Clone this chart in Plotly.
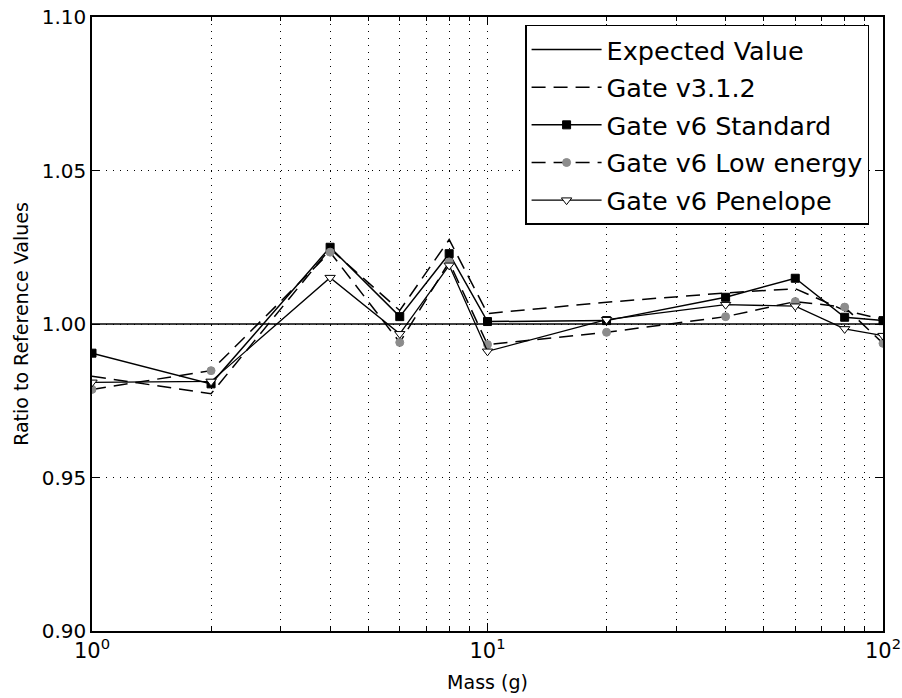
import plotly.graph_objects as go

masses = [1, 2, 4, 6, 8, 10, 20, 40, 60, 80, 100]
expected = [1.0] * len(masses)
gate_v312 = [0.9830, 0.9773, 1.0245, 1.0044, 1.0275, 1.0034, 1.0071, 1.0101, 1.0115, 1.0044, 1.0015]
v6_standard = [0.9905, 0.9805, 1.0250, 1.0024, 1.0229, 1.0008, 1.0011, 1.0087, 1.0149, 1.0022, 1.0011]
v6_lowenergy = [0.9787, 0.9848, 1.0234, 0.9940, 1.0202, 0.9933, 0.9973, 1.0024, 1.0073, 1.0055, 0.9937]
v6_penelope = [0.9810, 0.9813, 1.0151, 0.9968, 1.0191, 0.9911, 1.0014, 1.0063, 1.0058, 0.9984, 0.9962]

x_major = [1, 10, 100]
x_major_text = ["10<sup>0</sup>", "10<sup>1</sup>", "10<sup>2</sup>"]
x_minor = [2, 3, 4, 5, 6, 7, 8, 9, 20, 30, 40, 50, 60, 70, 80, 90]
y_ticks = [0.90, 0.95, 1.00, 1.05, 1.10]
y_ticktext = ["0.90", "0.95", "1.00", "1.05", "1.10"]

DASH = "14px,8px"

fig = go.Figure()
fig.add_trace(go.Scatter(x=masses, y=expected, mode="lines", name="Expected Value",
                         legendgroup="a",
                         line=dict(color="black", width=1.5)))
fig.add_trace(go.Scatter(x=masses, y=gate_v312, mode="lines", name="Gate v3.1.2",
                         legendgroup="b",
                         line=dict(color="black", width=1.5, dash=DASH)))
fig.add_trace(go.Scatter(x=masses, y=v6_standard, mode="lines+markers", name="Gate v6 Standard",
                         legendgroup="c",
                         line=dict(color="black", width=1.5),
                         marker=dict(symbol="square", size=8, color="black",
                                     line=dict(color="black", width=1))))
fig.add_trace(go.Scatter(x=masses, y=v6_lowenergy, mode="lines+markers", name="Gate v6 Low energy",
                         legendgroup="d",
                         line=dict(color="black", width=1.5, dash=DASH),
                         marker=dict(symbol="circle", size=8, color="#8c8c8c",
                                     line=dict(color="#8c8c8c", width=1))))
fig.add_trace(go.Scatter(x=masses, y=v6_penelope, mode="lines+markers", name="Gate v6 Penelope",
                         legendgroup="e",
                         line=dict(color="black", width=1.3),
                         marker=dict(symbol="triangle-down", size=9, color="white",
                                     line=dict(color="black", width=1))))

fig.update_layout(
    width=902, height=698,
    margin=dict(l=92, r=19, t=17, b=67),
    paper_bgcolor="white", plot_bgcolor="white",
    font=dict(family="DejaVu Sans", color="black", size=20),
    showlegend=True,
    legend=dict(x=0.9824, y=0.9870, xanchor="right", yanchor="top",
                bordercolor="black", borderwidth=1.5, bgcolor="white",
                font=dict(size=25.5, family="DejaVu Sans"),
                tracegroupgap=1.5, itemwidth=70),
)
fig.update_xaxes(
    type="log", range=[0, 2], automargin=False,
    tickmode="array", tickvals=x_major, ticktext=x_major_text,
    ticks="inside", ticklen=8, tickcolor="black", tickwidth=1,
    showline=True, linecolor="black", linewidth=1.5, mirror="allticks",
    showgrid=True, gridcolor="black", gridwidth=1, griddash="1px,6px",
    zeroline=False,
    tickfont=dict(size=21),
    title=dict(text="Mass (g)", font=dict(size=19), standoff=14),
    minor=dict(tickmode="array", tickvals=x_minor, ticks="inside", ticklen=4,
               tickcolor="black", showgrid=True, gridcolor="black", gridwidth=1,
               griddash="1px,6px"),
)
fig.update_yaxes(
    range=[0.9, 1.1], automargin=False,
    tickmode="array", tickvals=y_ticks, ticktext=y_ticktext,
    ticks="inside", ticklen=8, tickcolor="black", tickwidth=1,
    showline=True, linecolor="black", linewidth=1.5, mirror="allticks",
    showgrid=True, gridcolor="black", gridwidth=1, griddash="1px,6px",
    zeroline=False,
    tickfont=dict(size=20),
    title=dict(text="Ratio to Reference Values", font=dict(size=19), standoff=8),
)

fig.write_html("out.html")
